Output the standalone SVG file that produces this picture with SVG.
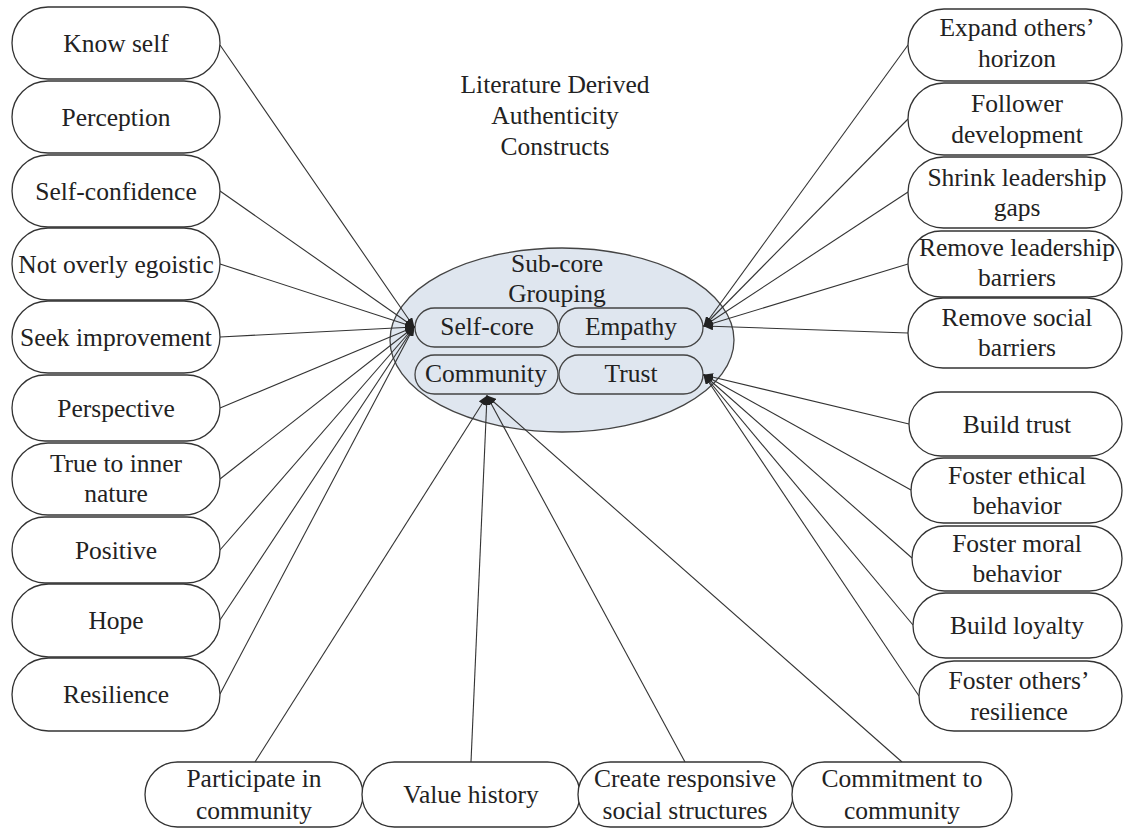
<svg xmlns="http://www.w3.org/2000/svg" width="1125" height="829" viewBox="0 0 1125 829">
<style>
.n{fill:#fff;stroke:#333;stroke-width:1.3}
.i{fill:#dfe6ef;stroke:#444;stroke-width:1.3}
.t{font-family:"Liberation Serif","Times New Roman",serif;font-size:25.5px;fill:#222;text-anchor:middle}
.c line{stroke:#333;stroke-width:1.1;marker-end:url(#ah)}
</style>
<defs>
<marker id="ah" markerUnits="userSpaceOnUse" markerWidth="10" markerHeight="8" refX="9" refY="4" orient="auto">
<path d="M0,0 L10,4 L0,8 z" fill="#222"/>
</marker>
</defs>
<rect width="1125" height="829" fill="#fff"/>

<g id="title">
<text class="t" x="555" y="93">Literature Derived</text>
<text class="t" x="555" y="124">Authenticity</text>
<text class="t" x="555" y="155">Constructs</text>
</g>

<g id="subcore">
<ellipse class="i" cx="562" cy="340" rx="172" ry="92"/>
<text class="t" x="557" y="272">Sub-core</text>
<text class="t" x="557" y="302">Grouping</text>
</g>
<g id="selfcore"><rect class="i" x="415" y="308" width="143" height="39" rx="19.5"/><text class="t" x="487" y="335">Self-core</text></g>
<g id="empathy"><rect class="i" x="559" y="308" width="144" height="39" rx="19.5"/><text class="t" x="631" y="335">Empathy</text></g>
<g id="community"><rect class="i" x="415" y="355" width="143" height="39" rx="19.5"/><text class="t" x="486" y="382">Community</text></g>
<g id="trust"><rect class="i" x="559" y="355" width="144" height="39" rx="19.5"/><text class="t" x="631" y="382">Trust</text></g>

<g id="connectors" class="c">
<line x1="220" y1="45" x2="414" y2="327"/>
<line x1="220" y1="191" x2="414" y2="327"/>
<line x1="220" y1="264" x2="414" y2="327"/>
<line x1="220" y1="337" x2="414" y2="327"/>
<line x1="220" y1="408" x2="414" y2="327"/>
<line x1="220" y1="479" x2="414" y2="327"/>
<line x1="220" y1="550" x2="414" y2="327"/>
<line x1="220" y1="620" x2="414" y2="327"/>
<line x1="220" y1="694" x2="414" y2="327"/>
<line x1="908" y1="45" x2="704" y2="326"/>
<line x1="908" y1="119" x2="704" y2="326"/>
<line x1="908" y1="192" x2="704" y2="326"/>
<line x1="908" y1="264" x2="704" y2="326"/>
<line x1="908" y1="333" x2="704" y2="326"/>
<line x1="909" y1="424" x2="704" y2="375"/>
<line x1="911" y1="490" x2="704" y2="375"/>
<line x1="912" y1="558" x2="704" y2="375"/>
<line x1="913" y1="625" x2="704" y2="375"/>
<line x1="919" y1="696" x2="704" y2="375"/>
<line x1="255" y1="762" x2="487" y2="396"/>
<line x1="471" y1="762" x2="487" y2="396"/>
<line x1="685" y1="762" x2="487" y2="396"/>
<line x1="902" y1="762" x2="487" y2="396"/>
</g>

<g id="know-self"><rect class="n" x="12" y="7" width="208" height="72" rx="36"/><text class="t" x="116" y="52">Know self</text></g>
<g id="perception"><rect class="n" x="12" y="81" width="208" height="72" rx="36"/><text class="t" x="116" y="126">Perception</text></g>
<g id="self-confidence"><rect class="n" x="12" y="155" width="208" height="72" rx="36"/><text class="t" x="116" y="200">Self-confidence</text></g>
<g id="not-overly-egoistic"><rect class="n" x="12" y="228" width="208" height="72" rx="36"/><text class="t" x="116" y="273">Not overly egoistic</text></g>
<g id="seek-improvement"><rect class="n" x="12" y="301" width="208" height="72" rx="36"/><text class="t" x="116" y="346">Seek improvement</text></g>
<g id="perspective"><rect class="n" x="12" y="375" width="208" height="66" rx="33"/><text class="t" x="116" y="417">Perspective</text></g>
<g id="true-to-inner-nature"><rect class="n" x="12" y="443" width="208" height="72" rx="36"/><text class="t" x="116" y="472">True to inner</text><text class="t" x="116" y="502">nature</text></g>
<g id="positive"><rect class="n" x="12" y="517" width="208" height="66" rx="33"/><text class="t" x="116" y="559">Positive</text></g>
<g id="hope"><rect class="n" x="12" y="584" width="208" height="73" rx="36.5"/><text class="t" x="116" y="629">Hope</text></g>
<g id="resilience"><rect class="n" x="12" y="658" width="208" height="73" rx="36.5"/><text class="t" x="116" y="703">Resilience</text></g>

<g id="expand-others-horizon"><rect class="n" x="908" y="9" width="214" height="72" rx="36"/><text class="t" x="1017" y="36">Expand others’</text><text class="t" x="1017" y="67">horizon</text></g>
<g id="follower-development"><rect class="n" x="908" y="83" width="214" height="72" rx="36"/><text class="t" x="1017" y="112">Follower</text><text class="t" x="1017" y="143">development</text></g>
<g id="shrink-leadership-gaps"><rect class="n" x="908" y="157" width="214" height="71" rx="35.5"/><text class="t" x="1017" y="186">Shrink leadership</text><text class="t" x="1017" y="216">gaps</text></g>
<g id="remove-leadership-barriers"><rect class="n" x="908" y="231" width="214" height="66" rx="33"/><text class="t" x="1017" y="256">Remove leadership</text><text class="t" x="1017" y="286">barriers</text></g>
<g id="remove-social-barriers"><rect class="n" x="908" y="298" width="214" height="70" rx="35"/><text class="t" x="1017" y="326">Remove social</text><text class="t" x="1017" y="356">barriers</text></g>
<g id="build-trust"><rect class="n" x="909" y="392" width="213" height="64" rx="32"/><text class="t" x="1017" y="433">Build trust</text></g>
<g id="foster-ethical-behavior"><rect class="n" x="911" y="458" width="211" height="65" rx="32.5"/><text class="t" x="1017" y="484">Foster ethical</text><text class="t" x="1017" y="514">behavior</text></g>
<g id="foster-moral-behavior"><rect class="n" x="912" y="526" width="210" height="65" rx="32.5"/><text class="t" x="1017" y="552">Foster moral</text><text class="t" x="1017" y="582">behavior</text></g>
<g id="build-loyalty"><rect class="n" x="913" y="593" width="209" height="65" rx="32.5"/><text class="t" x="1017" y="634">Build loyalty</text></g>
<g id="foster-others-resilience"><rect class="n" x="919" y="661" width="203" height="70" rx="35"/><text class="t" x="1019" y="689">Foster others’</text><text class="t" x="1019" y="720">resilience</text></g>

<g id="participate-in-community"><rect class="n" x="145" y="762" width="218" height="65" rx="32.5"/><text class="t" x="254" y="787">Participate in</text><text class="t" x="254" y="819">community</text></g>
<g id="value-history"><rect class="n" x="362" y="762" width="218" height="65" rx="32.5"/><text class="t" x="471" y="803">Value history</text></g>
<g id="create-responsive-social-structures"><rect class="n" x="578" y="762" width="215" height="65" rx="32.5"/><text class="t" x="685" y="787">Create responsive</text><text class="t" x="685" y="819">social structures</text></g>
<g id="commitment-to-community"><rect class="n" x="792" y="762" width="220" height="65" rx="32.5"/><text class="t" x="902" y="787">Commitment to</text><text class="t" x="902" y="819">community</text></g>
</svg>
